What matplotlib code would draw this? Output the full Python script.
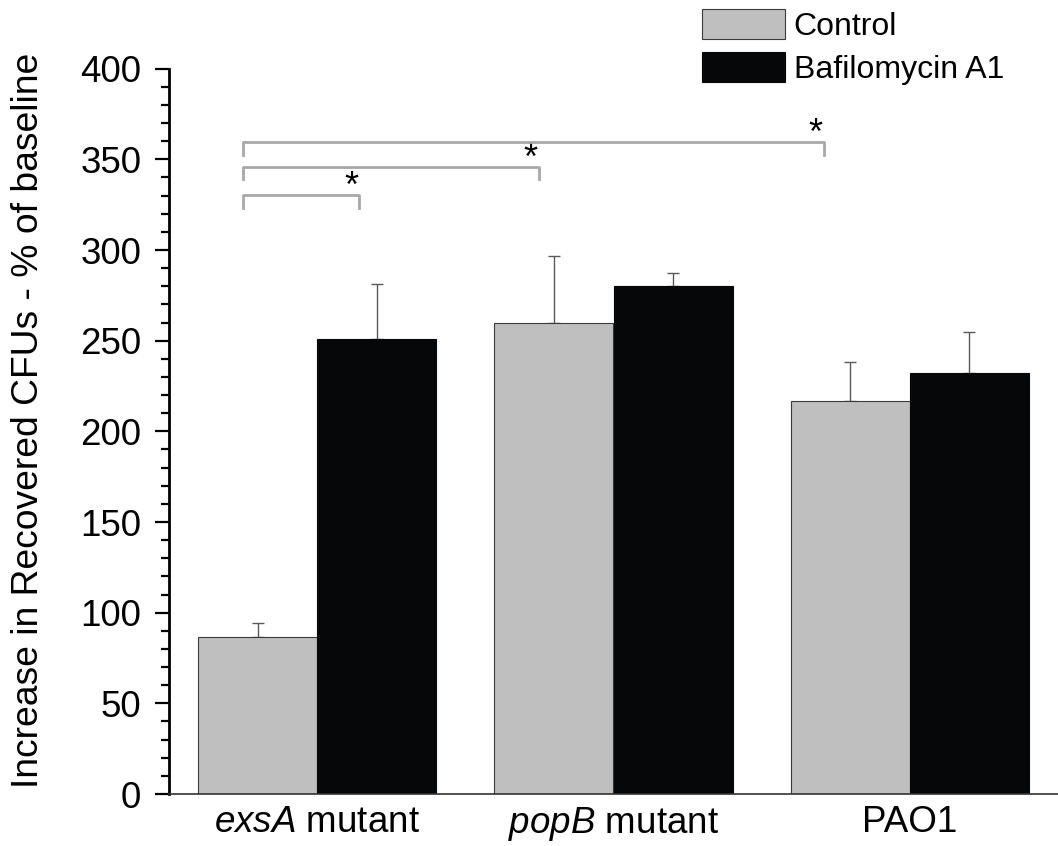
import numpy as np
import matplotlib
matplotlib.use('Agg')
import matplotlib.pyplot as plt
from matplotlib.ticker import MultipleLocator

plt.rcParams['font.family'] = ['Liberation Sans', 'DejaVu Sans']
plt.rcParams['mathtext.fontset'] = 'custom'
plt.rcParams['mathtext.rm'] = 'Liberation Sans'
plt.rcParams['mathtext.it'] = 'Liberation Sans:italic'

# data
strains = [r'$\mathit{exsA}$ mutant', r'$\mathit{popB}$ mutant', 'PAO1']
control_mean = [86.4, 259.5, 216.7]
control_err = [7.7, 37.3, 21.7]
bafilo_mean = [250.7, 280.3, 232.0]
bafilo_err = [30.3, 7.2, 22.6]

# significance brackets: (x start, x end, height)
brackets = [(-0.25, 0.141, 330.3), (-0.25, 0.747, 345.9), (-0.25, 1.709, 359.4)]

fig = plt.figure(figsize=(10.58, 8.46), dpi=100)
ax = fig.add_axes([169 / 1058, 52 / 846, 889 / 1058, 725.3 / 846])

x = np.arange(len(strains))
w = 0.402

ax.bar(x - w / 2, control_mean, w, color='#bfbfbf', edgecolor='#3a3a3a',
       linewidth=0.8, label='Control', zorder=2)
ax.bar(x + w / 2, bafilo_mean, w, color='#060709', edgecolor='#060709',
       linewidth=0.8, label='Bafilomycin A1', zorder=2)

# only the upper half of the error bars is shown
ax.errorbar(x - w / 2, control_mean, yerr=[np.zeros(3), control_err], fmt='none',
            ecolor='#5a5a5a', elinewidth=1.0, capsize=4.5, capthick=1.0, zorder=1)
ax.errorbar(x + w / 2, bafilo_mean, yerr=[np.zeros(3), bafilo_err], fmt='none',
            ecolor='#5a5a5a', elinewidth=1.0, capsize=4.5, capthick=1.0, zorder=1)

leg = 7
for x0, x1, yb in brackets:
    ax.plot([x0, x0, x1, x1], [yb - leg, yb, yb, yb - leg], color='#a8a8a8',
            lw=2.0, solid_joinstyle='round', clip_on=False, zorder=3)
    ax.annotate('*', xy=(x1 - 0.027, yb), xytext=(0, -1.5), textcoords='offset points',
                ha='center', va='baseline', fontsize=26, color='black')

ax.set_xlim(-0.5, 2.5)
ax.set_ylim(0, 400)
ax.set_xticks(x)
ax.set_xticklabels(strains)
ax.yaxis.set_major_locator(MultipleLocator(50))
ax.yaxis.set_minor_locator(MultipleLocator(10))
ax.tick_params(axis='x', length=0, pad=8, labelsize=26.5)
ax.tick_params(axis='y', which='major', length=10, width=1.6, pad=10, labelsize=26.5)
ax.tick_params(axis='y', which='minor', length=6, width=1.6)

for s in ['top', 'right']:
    ax.spines[s].set_visible(False)
ax.spines['left'].set_linewidth(2.0)
ax.spines['bottom'].set_linewidth(1.2)
ax.spines['bottom'].set_color('#333333')

fig.text(29 / 1058, 1 - 420.5 / 846, 'Increase in Recovered CFUs - % of baseline',
         rotation=90, ha='center', va='center', fontsize=26.8)

ax.legend(loc='upper left', bbox_to_anchor=(701.7 / 1058, 1 - 9 / 846),
          bbox_transform=fig.transFigure, frameon=False, fontsize=23,
          handlelength=2.6, handleheight=1.05, handletextpad=0.28,
          labelspacing=0.33, borderpad=0, borderaxespad=0)

fig.savefig('out.png', dpi=100)
